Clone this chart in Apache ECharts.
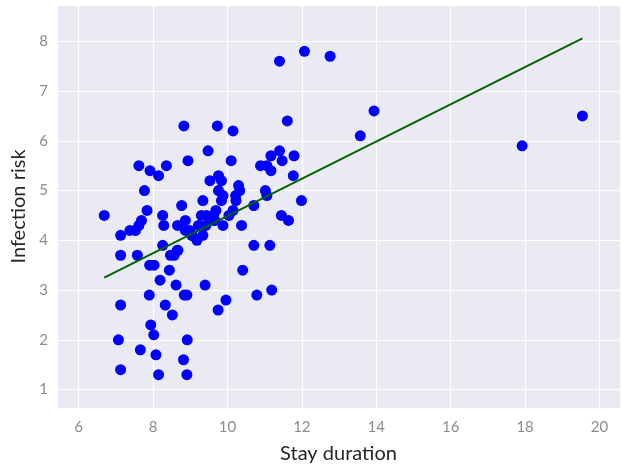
<!DOCTYPE html>
<html>
<head>
<meta charset="utf-8">
<script src="https://cdn.jsdelivr.net/npm/echarts@6/dist/echarts.min.js"></script>
<style>
html, body { margin: 0; padding: 0; background: #fff; }
#chart { width: 623px; height: 469px; }
</style>
</head>
<body>
<div id="chart"></div>
<script>
// 住院天数 vs 感染风险
var stay = [6.69, 7.13, 7.13, 7.13, 7.07, 7.13, 7.38, 7.53, 7.62, 7.69,
    7.62, 7.58, 7.66, 7.77, 7.84, 7.92, 7.91, 8.03, 7.90, 7.94,
    8.02, 8.08, 8.15, 8.15, 8.36, 8.26, 8.29, 8.26, 8.19, 8.33,
    8.44, 8.47, 8.57, 8.65, 8.66, 8.52, 8.62, 8.77, 8.83, 8.87,
    8.87, 8.99, 8.84, 8.91, 8.82, 8.92, 8.91, 8.94, 9.06, 9.18,
    9.22, 9.30, 9.34, 9.34, 9.42, 9.44, 9.40, 9.48, 9.53, 9.63,
    9.66, 9.69, 9.73, 9.76, 9.84, 9.76, 9.88, 9.84, 9.88, 9.75,
    9.96, 10.04, 10.15, 10.10, 10.15, 10.22, 10.23, 10.30, 10.33, 10.38,
    10.41, 10.71, 10.71, 10.79, 10.89, 11.02, 11.06, 11.06, 11.17, 11.17,
    11.14, 11.19, 11.40, 11.47, 11.45, 11.40, 11.61, 11.64, 11.79, 11.77,
    11.99, 12.07, 12.76, 13.57, 13.94, 17.92, 19.54, 8.67, 9.64, 9.04];
var risk = [4.5, 4.1, 3.7, 2.7, 2.0, 1.4, 4.2, 4.2, 4.3, 4.4,
    5.5, 3.7, 1.8, 5.0, 4.6, 5.4, 3.5, 3.5, 2.9, 2.3,
    2.1, 1.7, 1.3, 5.3, 5.5, 4.5, 4.3, 3.9, 3.2, 2.7,
    3.4, 3.7, 3.7, 3.8, 4.3, 2.5, 3.1, 4.7, 6.3, 4.4,
    4.2, 4.2, 2.9, 2.9, 1.6, 2.0, 1.3, 5.6, 4.1, 4.0,
    4.3, 4.5, 4.8, 4.1, 4.3, 4.5, 3.1, 5.8, 5.2, 4.5,
    4.4, 4.6, 6.3, 5.3, 5.2, 5.0, 4.9, 4.8, 4.3, 2.6,
    2.8, 4.5, 4.6, 5.6, 6.2, 4.9, 4.8, 5.1, 5.0, 4.3,
    3.4, 4.7, 3.9, 2.9, 5.5, 5.0, 4.9, 5.5, 5.7, 5.4,
    3.9, 3.0, 5.8, 5.6, 4.5, 7.6, 6.4, 4.4, 5.7, 5.3,
    4.8, 7.8, 7.7, 6.1, 6.6, 5.9, 6.5, 3.8, 4.4, 4.1];
// 回归线端点
var fitX = [6.69, 19.54];
var fitY = [3.25, 8.06];

var xMin = 5.42, xMax = 20.55;
var yMin = 0.63, yMax = 8.73;

var myChart = echarts.init(document.getElementById('chart'));

var points = [];
for (var i = 0; i < stay.length; i++) {
    points.push([stay[i], risk[i]]);
}
var fitLine = [];
for (var j = 0; j < fitX.length; j++) {
    fitLine.push([fitX[j], fitY[j]]);
}

var fontName = 'Lato';
var option = {
    animation: false,
    backgroundColor: '#ffffff',
    grid: {
        left: 57, right: 3, top: 5, bottom: 59,
        show: true,
        backgroundColor: '#eaeaf2',
        borderWidth: 0
    },
    xAxis: {
        type: 'value',
        min: xMin, max: xMax,
        splitNumber: 7,
        name: 'Stay duration',
        nameLocation: 'middle',
        nameGap: 36,
        nameTextStyle: { fontSize: 20, color: '#262626', fontFamily: fontName },
        axisLine: { show: false },
        axisTick: { show: false },
        axisLabel: { fontSize: 15, color: '#8c8c8c', fontFamily: fontName, margin: 12,
            showMinLabel: false, showMaxLabel: false },
        splitLine: { show: true, lineStyle: { color: '#ffffff', width: 1.2 } }
    },
    yAxis: {
        type: 'value',
        min: yMin, max: yMax,
        splitNumber: 8,
        name: 'Infection risk',
        nameLocation: 'middle',
        nameGap: 27,
        nameTextStyle: { fontSize: 20, color: '#262626', fontFamily: fontName },
        axisLine: { show: false },
        axisTick: { show: false },
        axisLabel: { fontSize: 15, color: '#8c8c8c', fontFamily: fontName, margin: 9,
            showMinLabel: false, showMaxLabel: false },
        splitLine: { show: true, lineStyle: { color: '#ffffff', width: 1.2 } }
    },
    series: [
        {
            type: 'scatter',
            data: points,
            symbolSize: 11,
            itemStyle: { color: '#0000ff', opacity: 1 },
            z: 2
        },
        {
            type: 'line',
            data: fitLine,
            showSymbol: false,
            lineStyle: { color: '#006400', width: 2 },
            z: 3
        }
    ]
};

myChart.setOption(option, true);
</script>
</body>
</html>
